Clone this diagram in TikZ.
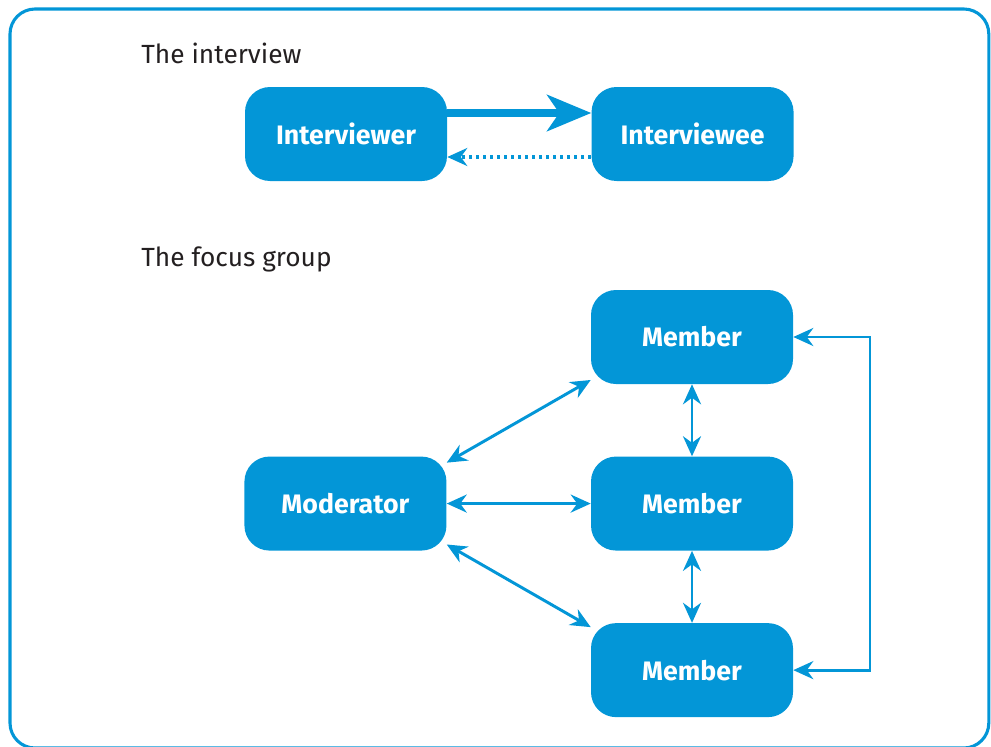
\documentclass[tikz,border=0pt]{standalone}
\usepackage{fontspec}
\setmainfont{Fira Sans}
\usetikzlibrary{
    arrows.meta,    % For arrow styles
    positioning     % For relative positioning of nodes
}
\definecolor{focusblue}{RGB}{3,150,215}
\definecolor{inktext}{RGB}{35,31,32}
\tikzset{
    % Style for the people boxes
    person/.style={
        rectangle,
        rounded corners=0.625cm,
        fill=focusblue,
        minimum width=5.05cm,
        minimum height=2.35cm,
        text=white,
        font=\fontsize{19}{22}\selectfont\bfseries
    },
    % Style for the section headings
    heading/.style={
        anchor=base west,
        inner sep=0pt,
        text=inktext,
        font=\fontsize{18.7}{22}\selectfont
    },
    % Style for the two-way links
    link/.style={
        <->,
        draw=focusblue,
        line width=2.1pt,
        >={Stealth[length=0.5cm,width=0.45cm]}
    },
    % Style for the question arrow
    ask/.style={
        draw=focusblue,
        line width=0.2cm,
        -{Stealth[length=1.1cm,width=0.9cm,inset=0.3cm]}
    },
    % Style for the answer arrow
    answer/.style={
        draw=focusblue,
        line width=2.2pt,
        dash pattern=on 2pt off 3pt,
        -{Stealth[length=0.5cm,width=0.45cm]}
    },
    % Style for the outer frame
    frame/.style={
        draw=focusblue,
        line width=2.2pt,
        rounded corners=0.625cm
    }
}
\begin{document}
\begin{tikzpicture}
    \useasboundingbox (0,0) rectangle (24.775,-18.65);
    \draw[frame] (0.25,-0.225) rectangle (24.72,-18.7);

    % --- The interview ---
    \node (title_iv) [heading] at (3.525,-1.58) {The interview};
    \node (iv) [person] at (8.65,-3.35) {Interviewer};
    \node (ie) [person, right=3.6cm of iv] {Interviewee};
    % Arrows
    \draw [ask] ([yshift=0.525cm]iv.east) -- ([yshift=0.525cm]ie.west);
    \draw [answer] ([yshift=-0.575cm]ie.west) -- ([yshift=-0.575cm]iv.east);

    % --- The focus group ---
    \node (title_fg) [heading] at (3.525,-6.65) {The focus group};
    \node (m1)  [person] at (17.3,-8.425) {Member};
    \node (m2)  [person, below=1.8cm of m1] {Member};
    \node (m3)  [person, below=1.8cm of m2] {Member};
    \node (mod) [person, left=3.6cm of m2] {Moderator};
    % Arrows
    \draw [link] (mod.22.5) -- (m1.203);
    \draw [link] (mod) -- (m2);
    \draw [link] (mod.-22.5) -- (m3.157);
    \draw [link] (m1) -- (m2);
    \draw [link] (m2) -- (m3);
    \coordinate (bend) at (21.75,-12.575);
    \draw [link] (m1.east) -| (bend) |- (m3.east);
\end{tikzpicture}
\end{document}
